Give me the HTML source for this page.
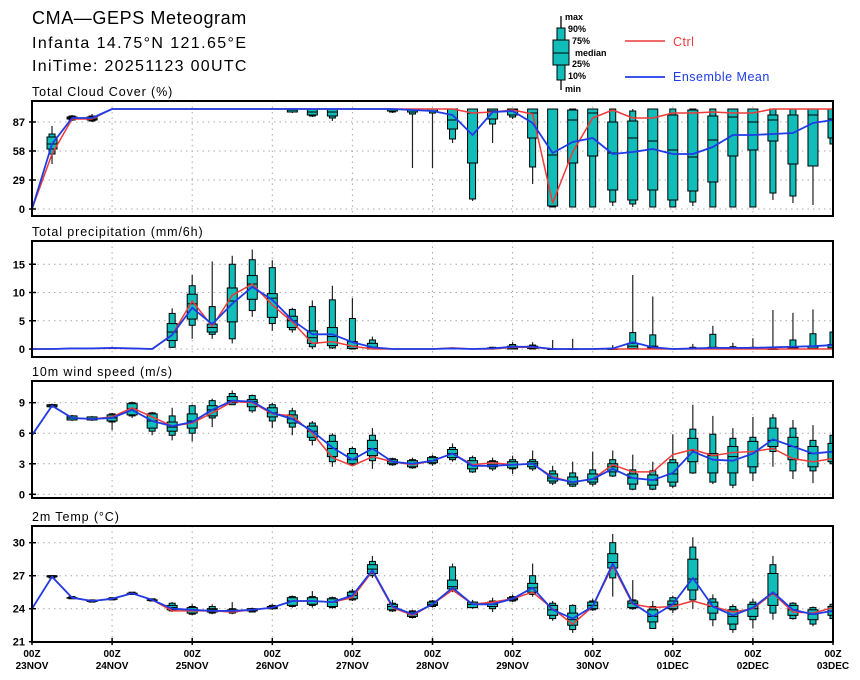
<!DOCTYPE html>
<html><head><meta charset="utf-8"><style>
body{margin:0;background:#fff;}
svg{display:block;font-family:"Liberation Sans","DejaVu Sans",sans-serif;}
.t{font-size:12.5px;letter-spacing:0.9px;}
.yl{font-size:11px;font-weight:bold;}
.xl{font-size:10px;font-weight:bold;}
.lg{font-size:9px;font-weight:bold;}
</style></head><body>
<svg id="chart" width="860" height="680" viewBox="0 0 860 680">
<text x="32" y="24" font-size="18" letter-spacing="0.6">CMA—GEPS Meteogram</text>
<text x="32" y="48" font-size="16" letter-spacing="1.4">Infanta 14.75°N 121.65°E</text>
<text x="32" y="71" font-size="16" letter-spacing="1.3">IniTime: 20251123 00UTC</text>
<g>
<line x1="561" y1="16" x2="561" y2="90" stroke="#000" stroke-width="1.3"/>
<rect x="557" y="28" width="8" height="52" fill="#11bdb8" stroke="#000"/>
<rect x="553" y="40" width="16" height="25" fill="#11bdb8" stroke="#000"/>
<line x1="553" y1="53" x2="569" y2="53" stroke="#000"/>
<text class="lg" x="565" y="20">max</text><text class="lg" x="568" y="32">90%</text><text class="lg" x="572" y="44">75%</text><text class="lg" x="575" y="56">median</text><text class="lg" x="572" y="67">25%</text><text class="lg" x="568" y="79">10%</text><text class="lg" x="565" y="92">min</text>
</g>
<g><line x1="625" y1="41" x2="665" y2="41" stroke="#ee3a3a" stroke-width="1.5"/><text x="673" y="46" font-size="12.5" fill="#ee3a3a" letter-spacing="0.5">Ctrl</text></g>
<g><line x1="625" y1="77" x2="665" y2="77" stroke="#1f3be8" stroke-width="1.8"/><text x="673" y="81" font-size="12.5" fill="#1f3be8" letter-spacing="0.5">Ensemble Mean</text></g>
</svg>
<script>
// ---- data ----
const dayLabels = ["23NOV","24NOV","25NOV","26NOV","27NOV","28NOV","29NOV","30NOV","01DEC","02DEC","03DEC"];
const cloudCtrl = [0,55,90,90,100,100,100,100,100,100,100,100,100,100,100,100,100,100,100,100,100,100,96,97,99,95,6,57,91,99,91,91,96,96,97,96,96,100,100,100,100];
const cloudMean = [0,65,91,91,100,100,100,100,100,100,100,100,100,100,100,100,100,100,100,99,98,94,74,97,98,86,56,67,71,55,57,60,55,55,62,74,74,75,76,86,89];
const cloudStats = [null,[45,55,60,65,72,75,83],[88,89,90,91,92,93,94],[87,88,89,90,92,93,95],
null,null,null,null,null,null,null,null,null,
[96,97,97,99,100,100,100],[92,93,94,97,100,100,100],[88,91,93,97,100,100,100],null,null,[96,97,98,100,100,100,100],
[41,95,97,100,100,100,100],[41,96,98,100,100,100,100],[66,70,80,89,100,100,100],[8,10,46,96,100,100,100],[66,85,90,98,100,100,100],[90,92,94,99,100,100,100],
[25,42,71,96,100,100,100],[2,2,3,54,100,100,100],[2,2,46,89,99,100,100],[2,2,53,96,100,100,100],[3,7,19,56,87,100,100],[2,5,9,71,88,98,100],
[2,2,19,68,100,100,100],[2,2,9,59,94,100,100],[3,7,18,52,99,100,100],[2,2,27,69,93,100,100],[2,2,53,92,100,100,100],[2,2,59,87,100,100,100],
[9,16,68,89,94,100,100],[6,13,45,94,94,100,100],[4,43,43,94,100,100,100],[60,65,71,90,100,100,100]];
const precCtrl = [0,0,0.1,0.1,0.1,0.1,0,2.5,8.5,4,9.5,11.5,7.8,4.8,1,1.3,0.5,0,0,0,0,0.2,0,0,0.3,0.3,0,0,0,0,0,0,0,0,0,0,0,0,0,0,0];
const precMean = [0,0,0.1,0.1,0.2,0.1,0,2.5,7.3,4.4,8,11,8.7,5.1,2.6,2.6,1.2,0.3,0,0,0,0.1,0,0.1,0.4,0.4,0,0,0,0.1,1.2,0.3,0,0.1,0.2,0.2,0.2,0.3,0.4,0.5,0.7];
const precStats = [null,null,null,null,null,null,null,
[0.2,0.3,1.5,3,4.5,6.3,7.2],[1.8,4.2,5.3,8,9.7,11.2,13.1],[1.8,2.6,3,3.8,4.4,7.5,15.5],[1,1.8,4.8,8.5,10.8,15,16.5],[5.7,6.8,8.8,11.5,13,15.8,17.6],[3.2,4.5,5.6,9,9.8,14.4,15.7],
[2.9,3.4,3.8,5,5.8,7,7.3],[0,0.4,1,2,3.2,7.5,8.6],[0,0.2,0.6,2.2,3.8,8.7,11.2],[0,0,0.1,0.5,1.3,5.4,9],[0,0,0,0.3,1,1.6,2.2],
null,null,null,null,null,[0,0,0.1,0.1,0.2,0.3,0.4],[0,0,0,0.2,0.5,0.8,1.2],[0,0,0.1,0.3,0.5,0.7,1.2],[0,0,0,0,0,0,1.6],[0,0,0,0,0,0,1.8],null,
[0,0,0,0,0,0.1,0.7],[0,0,0.1,0.5,1,2.9,13.1],[0,0,0,0.2,0.5,2.5,9.3],null,[0,0,0,0,0.1,0.3,0.9],[0,0,0,0.1,0.3,2.6,4.1],[0,0,0,0.1,0.2,0.4,1.1],
[0,0,0,0,0.1,0.3,1.9],[0,0,0,0,0,0.2,6.9],[0,0,0,0.1,0.2,1.6,6.4],[0,0,0,0.1,0.4,2.7,7],[0,0,0,0.2,0.8,3,7]];
const windCtrl = [5.8,8.7,7.5,7.4,7.6,8.5,7.6,6.7,7,8,9.1,9,7.9,7.7,6,3.6,2.8,3.7,3.2,2.9,3.3,4,2.9,3.1,2.9,3,1.7,1.2,1.5,2.9,2.2,2.2,3.9,4.4,3.8,4.1,4.2,4.5,3.5,3.2,3.5];
const windMean = [5.8,8.7,7.5,7.4,7.5,8.3,7.2,6.7,7.1,8.3,9.2,9.1,8,7.4,6.2,4.6,3.4,4.5,3.2,3,3.3,4,2.8,2.8,2.9,3,1.6,1.2,1.5,2.5,1.6,1.4,2.1,4.2,3.4,3.3,4,5.4,4.7,4,4.2];
const windStats = [null,[8.5,8.6,8.6,8.7,8.8,8.8,8.9],[7.2,7.3,7.3,7.5,7.7,7.7,7.8],[7.2,7.3,7.3,7.4,7.6,7.6,7.7],[6.3,7.1,7.2,7.5,7.8,7.9,8],
[7.5,7.7,7.8,8.4,8.9,9,9.1],[5.8,6.2,6.5,7.2,7.9,8,8.1],[5.3,5.8,6.2,6.6,7.1,7.7,8.5],[5.2,6,6.5,7.2,7.9,8.7,8.8],[6.6,7.5,7.7,8.3,8.7,9.2,9.4],
[8.8,8.8,9,9.2,9.6,9.9,10.2],[8,8.2,8.6,9.1,9.3,9.7,9.8],[6.5,7.2,7.6,8,8.5,8.8,9],[5.8,6.6,7,7.4,7.8,8.2,8.5],[4.8,5.3,5.6,6.2,6.7,7,7.2],
[2.7,3.2,3.7,4.5,5.2,5.8,6],[2.8,2.9,3,3.4,4,4.5,4.7],[2.5,3.3,3.8,4.5,5.3,5.8,6.5],[2.8,2.9,3,3.2,3.4,3.5,3.6],[2.5,2.6,2.7,3,3.3,3.4,3.6],
[2.8,3,3.1,3.3,3.6,3.7,3.9],[3.2,3.4,3.6,4,4.4,4.6,5],[2.1,2.2,2.5,2.9,3.3,3.6,3.8],[2.3,2.5,2.7,2.9,3.2,3.3,3.6],[2,2.5,2.6,2.9,3.2,3.4,3.8],
[2.3,2.5,2.7,3,3.2,3.4,4.3],[0.9,1.1,1.3,1.6,2,2.3,2.8],[0.7,0.8,1,1.2,1.7,2.1,3.2],[0.8,1,1.2,1.5,2,2.4,4.2],[1.7,1.8,2.2,2.7,3,3.4,4.3],
[0.4,0.5,1,1.6,2,2.4,3.9],[0.4,0.5,0.9,1.4,1.9,2.3,3.2],[0.6,0.8,1.2,2,3.1,3.4,5.9],[2,2.1,3.2,4.3,5.5,6.4,8.8],[1,1.2,2.1,3.8,4,5.9,7.7],
[0.6,0.9,2.1,3.7,4.7,5.5,6.5],[1.3,2.1,2.7,4.2,5.2,5.6,7.6],[2.7,4.2,4.7,5.3,6.5,7.5,7.9],[1.5,2.3,3.4,4.7,5.6,6.5,7.3],[1.1,2.3,2.7,4,4.7,5.3,6.8],[2.5,3,3.2,4.2,5,5.8,6.2]];
const tempCtrl = [24,26.9,25,24.7,24.9,25.4,24.8,23.8,23.8,23.8,23.7,23.9,24.1,24.7,24.7,24.6,25,27.4,24.1,23.4,24.4,25.7,24.4,24.6,24.9,25.5,24,22.6,24.2,27.9,24.4,24.1,24.2,24.7,24.2,23.7,24,25.4,23.7,23.6,24.1];
const tempMean = [24,26.9,25,24.7,24.9,25.4,24.8,24,23.9,23.8,23.8,23.9,24.1,24.7,24.7,24.6,25.2,27.5,24.2,23.5,24.4,25.9,24.4,24.4,24.9,25.9,23.9,23.1,24.2,28.1,24.5,23.3,24.4,26.8,24.2,23.4,24.1,25.5,23.9,23.5,23.8];
const tempStats = [null,[26.8,26.8,26.9,26.9,27,27,27],[24.9,24.9,25,25,25,25.1,25.1],[24.6,24.6,24.7,24.7,24.7,24.8,24.8],[24.8,24.8,24.9,24.9,24.9,25,25],
[25.3,25.3,25.3,25.4,25.4,25.5,25.5],[24.7,24.7,24.8,24.8,24.8,24.9,24.9],[23.7,23.8,23.9,24.1,24.3,24.5,24.6],[23.4,23.5,23.6,23.9,24.1,24.2,24.4],[23.5,23.6,23.7,23.9,24,24.2,24.4],
[23.5,23.6,23.7,23.8,23.9,24,24.6],[23.7,23.7,23.8,23.9,24,24,24.1],[23.9,24,24,24.1,24.2,24.3,24.4],[24.1,24.2,24.3,24.7,25,25.1,25.2],[24.1,24.3,24.4,24.7,25,25.1,25.6],
[24,24.1,24.2,24.6,24.9,25,25.1],[24.7,24.8,24.9,25.2,25.5,25.6,25.8],[26.8,27,27.2,27.6,28,28.3,28.8],[23.7,23.8,23.9,24.2,24.4,24.5,24.8],[23.1,23.2,23.3,23.5,23.7,23.8,23.9],
[24.1,24.2,24.3,24.4,24.6,24.7,24.8],[25.5,25.7,25.8,26,26.6,27.8,28.1],[24,24.1,24.1,24.4,24.6,24.6,24.8],[23.7,24,24.2,24.4,24.6,24.7,25],[24.6,24.7,24.8,24.9,25,25.1,25.3],
[25.1,25.3,25.5,25.9,26.3,27,28.1],[22.9,23.1,23.4,23.9,24.3,24.5,24.7],[21.8,22.1,22.5,23,23.6,24.3,24.4],[23.8,23.9,24,24.3,24.6,24.7,24.9],[25.1,26.8,27.7,28.2,29,30,30.8],
[23.9,24,24.1,24.5,24.7,24.8,26.6],[22.4,22.2,22.8,23.3,23.9,24.2,24.7],[23.6,23.9,24,24.4,24.7,25,25.2],[24,24.8,25.7,26.7,28.5,29.6,30.5],[22.4,23,23.6,24.2,24.6,24.9,25.3],
[21.8,22.1,22.6,23.3,23.9,24.2,24.4],[22.2,23,23.3,24,24.4,24.6,24.9],[23,23.6,24.3,25.3,27.2,28,28.8],[23,23.1,23.4,23.9,24.3,24.5,24.6],[22.4,22.6,23,23.5,23.9,24.1,24.2],[23.1,23.1,23.4,23.8,24.2,24.4,24.5]];

// ---- layout ----
const svg = document.getElementById('chart');
const NS = 'http://www.w3.org/2000/svg';
const X0 = 32, X1 = 833, NSTEP = 40;
function xs(i){ return X0 + (X1 - X0) * i / NSTEP; }
function mk(tag, attrs, parent){ const e = document.createElementNS(NS, tag); for (const k in attrs) e.setAttribute(k, attrs[k]); (parent||svg).appendChild(e); return e; }

const panels = [
 {key:'cloud', title:'Total Cloud Cover (%)', top:101, bot:216, y0:209, ppu:1.0, ticks:[0,29,58,87], ctrl:cloudCtrl, mean:cloudMean, stats:cloudStats},
 {key:'precip', title:'Total precipitation (mm/6h)', top:241, bot:357, y0:349, ppu:5.65, ticks:[0,5,10,15], ctrl:precCtrl, mean:precMean, stats:precStats},
 {key:'wind', title:'10m wind speed (m/s)', top:381, bot:498, y0:494.3, ppu:10.18, ticks:[0,3,6,9], ctrl:windCtrl, mean:windMean, stats:windStats},
 {key:'temp', title:'2m Temp (°C)', top:526, bot:642, y0:641.7, base:21, ppu:11, ticks:[21,24,27,30], ctrl:tempCtrl, mean:tempMean, stats:tempStats}
];

panels.forEach((p, pi) => {
  const base = p.base || 0;
  const ys = v => p.y0 - (v - base) * p.ppu;
  const g = mk('g', {});
  
  
  const t = mk('text', {x:32, y:p.top-5, class:'t'}, g);
  t.textContent = p.title;
  
  
  const clipId = 'clip' + pi;
  const cp = mk('clipPath', {id:clipId}, g);
  mk('rect', {x:X0, y:p.top, width:X1-X0, height:p.bot-p.top}, cp);
  for (let d = 1; d < 10; d++) {
    const gl = mk('line', {x1:xs(d*4), x2:xs(d*4), y1:p.top, y2:p.bot, stroke:'#aaa', 'stroke-dasharray':'1.5,4'}, g);
    
    
  }
  p.ticks.forEach(v => {
    const y = ys(v);
    if (y > p.top + 2 && y < p.bot - 2) {
      const gl = mk('line', {x1:X0, x2:X1, y1:y, y2:y, stroke:'#aaa', 'stroke-dasharray':'1.5,4'}, g);
      
      
    }
    mk('line', {x1:X0-3, x2:X0+4, y1:y, y2:y, stroke:'#000', 'stroke-width':1.5}, g);
    const lb = mk('text', {x:X0-7, y:y+4, 'text-anchor':'end', class:'yl'}, g);
    lb.textContent = v;
    
    
  });
  const bg = mk('g', {'clip-path':'url(#' + clipId + ')'}, g);
  p.stats.forEach((s, i) => {
    if (!s) return;
    const x = xs(i);
    const bx = mk('g', {}, bg);
    
    
    mk('line', {x1:x, x2:x, y1:ys(s[0]), y2:ys(s[6]), stroke:'#222', 'stroke-width':1.2}, bx);
    mk('rect', {x:x-3, y:ys(s[5]), width:6, height:Math.max(0.5, ys(s[1])-ys(s[5])), fill:'#11bdb8', stroke:'#000', 'stroke-width':1}, bx);
    mk('rect', {x:x-5, y:ys(s[4]), width:10, height:Math.max(0.5, ys(s[2])-ys(s[4])), fill:'#11bdb8', stroke:'#000', 'stroke-width':1}, bx);
    mk('line', {x1:x-5, x2:x+5, y1:ys(s[3]), y2:ys(s[3]), stroke:'#000', 'stroke-width':1}, bx);
  });
  const line = (arr, col, w, name) => {
    const pl = mk('polyline', {points:arr.map((v,i)=>xs(i)+','+ys(v)).join(' '), fill:'none', stroke:col, 'stroke-width':w, 'stroke-linejoin':'round', 'clip-path':'url(#' + clipId + ')'}, g);
    
    
  };
  line(p.ctrl, '#ee3a3a', 1.5, p.key + '-ctrl-line');
  line(p.mean, '#1f3be8', 1.8, p.key + '-mean-line');
  const fr = mk('rect', {x:X0, y:p.top, width:X1-X0, height:p.bot-p.top, fill:'none', stroke:'#000', 'stroke-width':2}, g);
  
  
  if (pi === 3) {
    dayLabels.forEach((d, k) => {
      const x = xs(k*4);
      mk('line', {x1:x, x2:x, y1:p.bot-4, y2:p.bot+3, stroke:'#000', 'stroke-width':1.5}, g);
      const a = mk('text', {x:x, y:p.bot+15, 'text-anchor':'middle', class:'xl'}, g);
      a.textContent = '00Z';
      
      
      const b = mk('text', {x:x, y:p.bot+27, 'text-anchor':'middle', class:'xl'}, g);
      b.textContent = d;
      
      
    });
  }
});
</script>
</body></html>
